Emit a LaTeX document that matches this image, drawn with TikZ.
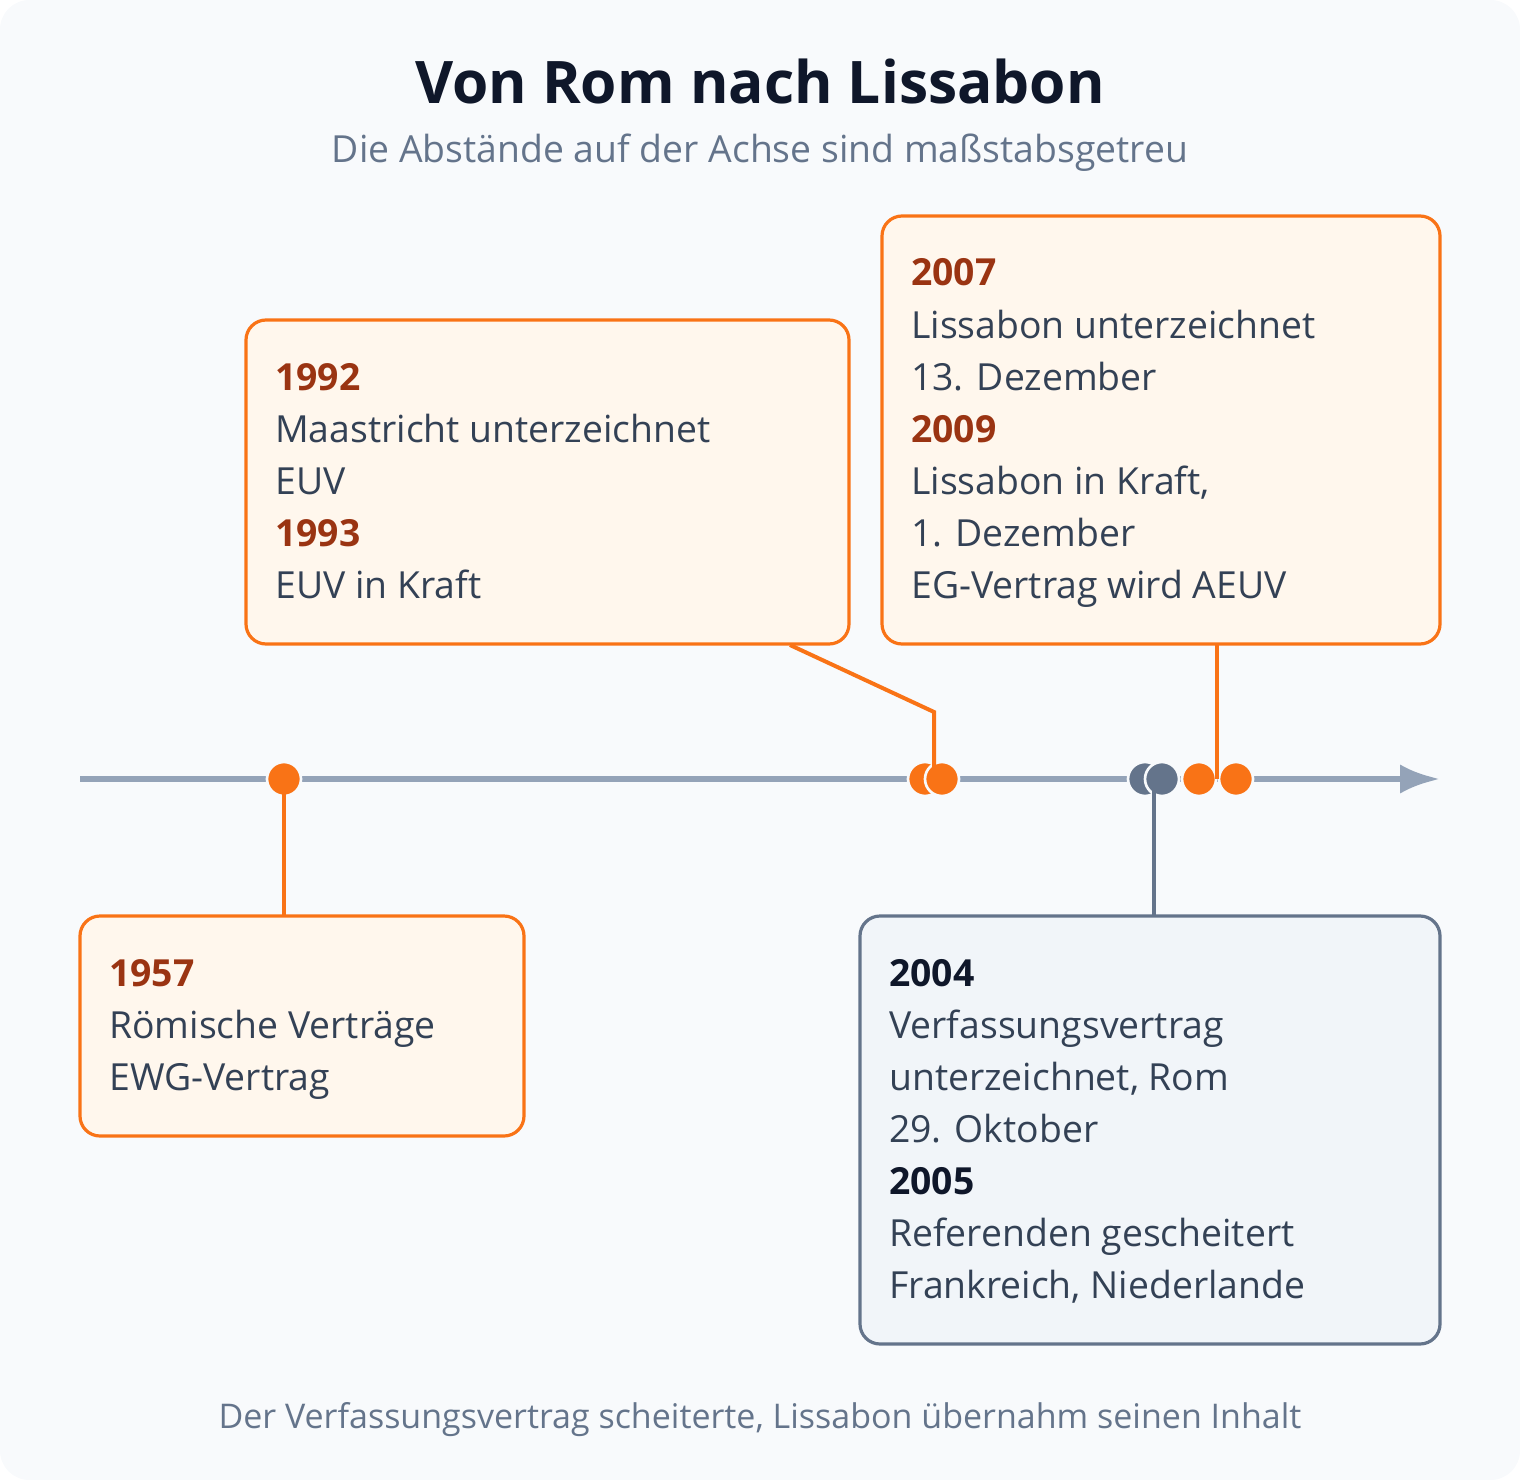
\documentclass[tikz,border=0pt]{standalone}
\usepackage{fontspec}
\setmainfont{Open Sans}
\usetikzlibrary{arrows.meta}
\definecolor{bg}{HTML}{F8FAFC}
\definecolor{org}{HTML}{F97316}
\definecolor{orgfill}{HTML}{FFF7ED}
\definecolor{yr}{HTML}{9A3412}
\definecolor{gr}{HTML}{64748B}
\definecolor{grfill}{HTML}{F1F5F9}
\definecolor{axis}{HTML}{94A3B8}
\definecolor{ttl}{HTML}{0F172A}
\definecolor{txt}{HTML}{334155}
\begin{document}
\begin{tikzpicture}[x=0.75pt,y=-0.75pt,
  obox/.style={draw=org,fill=orgfill,line width=2.4pt,rounded corners=15pt},
  gbox/.style={draw=gr,fill=grfill,line width=2.4pt,rounded corners=15pt},
  odot/.style={circle,fill=org,draw=bg,line width=2pt,inner sep=0pt,minimum size=25.5pt},
  gdot/.style={circle,fill=gr,draw=bg,line width=2pt,inner sep=0pt,minimum size=25.5pt},
  ln/.style={anchor=base west,inner sep=0pt,font=\fontsize{28}{32}\selectfont,text=txt},
  oyr/.style={ln,font=\fontsize{28}{32}\selectfont\bfseries,text=yr},
  gyr/.style={ln,font=\fontsize{28}{32}\selectfont\bfseries,text=ttl},
  olead/.style={draw=org,line width=3pt},
  glead/.style={draw=gr,line width=3pt}]
\useasboundingbox (0,0) rectangle (1520,1480);
\fill[bg,rounded corners=22pt] (0,0) rectangle (1520,1480);
\node[anchor=base,font=\fontsize{44}{50}\selectfont\bfseries,text=ttl] (title) at (760,104) {Von Rom nach Lissabon};
\node[anchor=base,font=\fontsize{28}{32}\selectfont,text=gr] (sub) at (760,163) {Die Abstände auf der Achse sind maßstabsgetreu};
\node[anchor=base,font=\fontsize{25.5}{30}\selectfont,text=gr] (foot) at (760,1428) {Der Verfassungsvertrag scheiterte, Lissabon übernahm seinen Inhalt};
% axis
\coordinate (a0) at (80,779); \coordinate (a1) at (1440,779);
\draw[axis,line width=5pt,-{Latex[length=30pt,width=22pt]}] (a0) -- (a1);
% boxes
\draw[obox] (246,320) rectangle (849,644);
\draw[obox] (882,216) rectangle (1440,644);
\draw[obox] (80,916) rectangle (524,1136);
\draw[gbox] (860,916) rectangle (1440,1344);
\coordinate (b92) at (790,645); \coordinate (k92) at (934,712); \coordinate (e92) at (934,779);
\coordinate (b07) at (1217,645); \coordinate (e07) at (1217,779);
\coordinate (b57) at (284,915); \coordinate (b04) at (1154,915);
% dots
\node[odot] (d57) at (284,779) {};
\node[odot] (d92) at (925,779) {};
\node[odot] (d93) at (942,779) {};
\node[gdot] (d04) at (1145,779) {};
\node[gdot] (d05) at (1162,779) {};
\node[odot] (d07) at (1199,779) {};
\node[odot] (d09) at (1236,779) {};
% leaders
\draw[olead] (b92) -- (k92) -- (e92);
\draw[olead] (b07) -- (e07);
\draw[olead] (d57.center) -- (b57);
\draw[glead] (d05.center) ++(-8,0) -- (b04);
% texts
\node[oyr] (t1) at (275,390) {1992};
\node[ln] (t2) at (275,442) {Maastricht unterzeichnet};
\node[ln] (t3) at (275,494) {EUV};
\node[oyr] (t4) at (275,546) {1993};
\node[ln] (t5) at (275,598) {EUV in Kraft};
\node[oyr] (u1) at (911,286) {2007};
\node[ln] (u2) at (911,338) {Lissabon unterzeichnet};
\node[ln] (u3) at (911,390) {13. Dezember};
\node[oyr] (u4) at (911,442) {2009};
\node[ln] (u5) at (911,494) {Lissabon in Kraft,};
\node[ln] (u6) at (911,546) {1. Dezember};
\node[ln] (u7) at (911,598) {EG-Vertrag wird AEUV};
\node[oyr] (v1) at (109,986) {1957};
\node[ln] (v2) at (109,1038) {Römische Verträge};
\node[ln] (v3) at (109,1090) {EWG-Vertrag};
\node[gyr] (w1) at (889,986) {2004};
\node[ln] (w2) at (889,1038) {Verfassungsvertrag};
\node[ln] (w3) at (889,1090) {unterzeichnet, Rom};
\node[ln] (w4) at (889,1142) {29. Oktober};
\node[gyr] (w5) at (889,1194) {2005};
\node[ln] (w6) at (889,1246) {Referenden gescheitert};
\node[ln] (w7) at (889,1298) {Frankreich, Niederlande};
\end{tikzpicture}
\end{document}
